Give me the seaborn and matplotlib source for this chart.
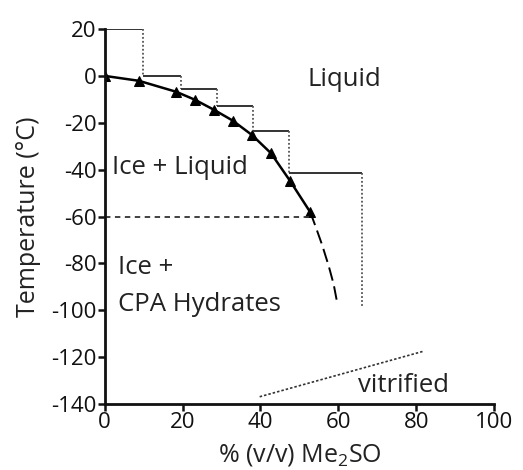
import matplotlib
matplotlib.use("Agg")
import matplotlib.pyplot as plt
import seaborn as sns
import pandas as pd

# ---- data ----
conc = [0, 8.8, 18.4, 23.2, 28.1, 32.9, 37.8, 42.7, 47.6, 52.8]
melt = [0, -2.1, -6.8, -10.2, -14.5, -19.1, -25.2, -33.0, -44.8, -58.2]

extrap_conc = [52.8, 54.2, 55.8, 57.5, 58.8, 59.6]
extrap_temp = [-58.2, -64.5, -72.0, -81.0, -89.0, -96.0]

step_left = [0, 9.9, 19.6, 28.9, 38.1, 47.4]
step_right = [9.9, 19.6, 28.9, 38.1, 47.4, 66.1]
step_temp = [20, 0, -5.5, -12.8, -23.5, -41.4]
step_drop_to = [0, -5.5, -12.8, -23.5, -41.4, -99.0]

eutectic_x = [0, 52.5]
eutectic_y = [-60, -60]

vitri_x = [39.8, 81.8]
vitri_y = [-136.9, -117.5]

region_labels = ["Liquid", "Ice + Liquid", "Ice +", "CPA Hydrates", "vitrified"]
region_x = [52.0, 1.9, 3.5, 3.5, 65.1]
region_y = [-1.7, -39.3, -81.9, -97.7, -132.3]

xticks = [0, 20, 40, 60, 80, 100]
yticks = [20, 0, -20, -40, -60, -80, -100, -120, -140]

# ---- styling ----
sns.set_theme(style="ticks")
plt.rcParams["font.family"] = ["Open Sans", "DejaVu Sans"]
plt.rcParams["mathtext.fontset"] = "custom"
plt.rcParams["mathtext.rm"] = "Open Sans"
plt.rcParams["mathtext.it"] = "Open Sans"
plt.rcParams["axes.unicode_minus"] = False
plt.rcParams["text.color"] = "#222222"

fig = plt.figure(figsize=(5.23, 4.70), dpi=100)
ax = fig.add_axes([0.2, 0.1404, 0.745, 0.7979])

df = pd.DataFrame({"conc": conc, "temp": melt})
sns.lineplot(data=df, x="conc", y="temp", ax=ax, color="black", lw=1.8,
             marker="^", markersize=6.5, markeredgecolor="black", sort=False)

dfe = pd.DataFrame({"conc": extrap_conc, "temp": extrap_temp})
sns.lineplot(data=dfe, x="conc", y="temp", ax=ax, color="black", lw=1.4,
             sort=False, dashes=False, linestyle=(0, (7, 3)))

# step lines (solid horizontal, dotted vertical)
for l, r, t, d in zip(step_left, step_right, step_temp, step_drop_to):
    ax.plot([l, r], [t, t], color="#333333", lw=1.4, solid_capstyle="butt")
    ax.plot([r, r], [t, d], color="#555555", lw=1.3, linestyle=(0, (1, 1.2)))

ax.plot(eutectic_x, eutectic_y, color="#333333", lw=1.3, linestyle=(0, (3, 2.5)))
ax.plot(vitri_x, vitri_y, color="#333333", lw=1.2, linestyle=(0, (1.5, 1.2)))

for lab, x, y in zip(region_labels, region_x, region_y):
    ax.text(x, y, lab, fontsize=18.5, ha="left", va="center", color="#222222")

ax.set_xlim(0, 100)
ax.set_ylim(-140, 20)
ax.set_xticks(xticks)
ax.set_yticks(yticks)
ax.tick_params(axis="both", labelsize=16, length=5, width=1.8, color="#111111",
               labelcolor="#111111", pad=1)
for s in ["left", "bottom"]:
    ax.spines[s].set_linewidth(2)
    ax.spines[s].set_color("#111111")
sns.despine(ax=ax)
ax.set_xlabel("% (v/v) Me$_2$SO", fontsize=18, labelpad=6, color="#222222")
ax.set_ylabel("Temperature (°C)", fontsize=18, labelpad=7, color="#222222")

fig.savefig("out.png", dpi=100)
